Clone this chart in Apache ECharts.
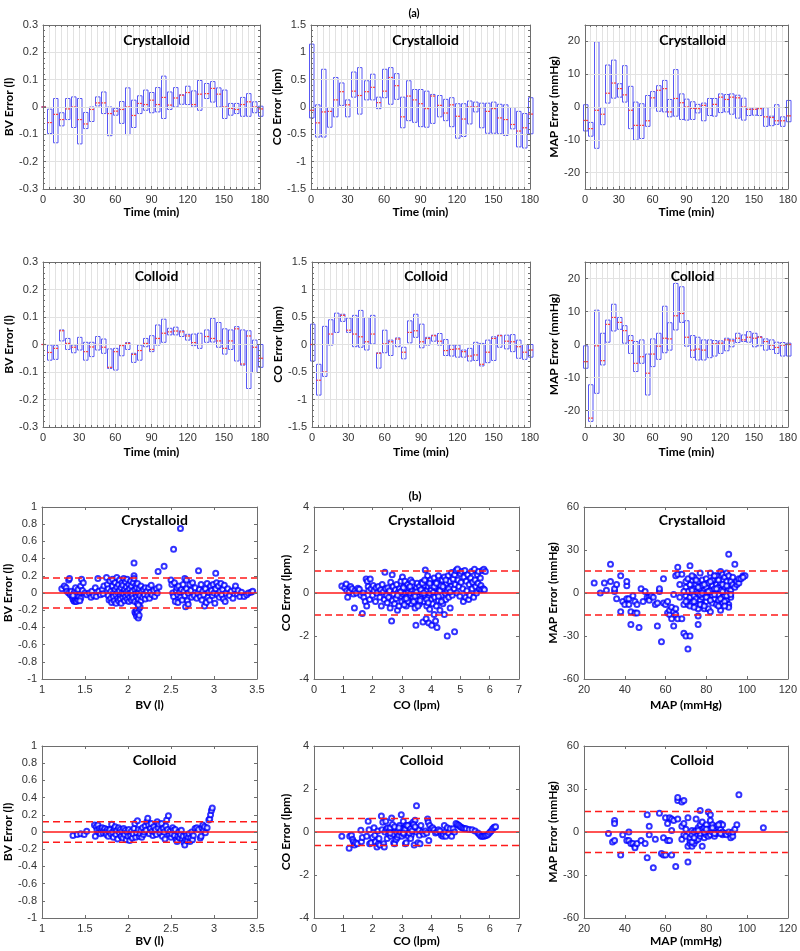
<!DOCTYPE html>
<html><head><meta charset="utf-8">
<script src="https://cdn.jsdelivr.net/npm/echarts@6/dist/echarts.min.js"></script>
<style>html,body{margin:0;padding:0;background:#fff}#c{width:800px;height:951px}</style>
</head><body><div id="c"></div><script>
// ---------- DATA ----------
const boxTimes = [0,5,10,15,20,25,30,35,40,45,50,55,60,65,70,75,80,85,90,95,100,105,110,115,120,125,130,135,140,145,150,155,160,165,170,175,180];

// (a) Crystalloid BV error boxes
const bvCryHigh = [0,-0.008,0.031,-0.021,0.031,0.037,0.031,-0.02,0.0,0.037,0.055,0.0,-0.005,0.02,0.07,0.025,0.041,0.062,0.053,0.071,0.113,0.055,0.071,0.045,0.076,0.059,0.097,0.086,0.093,0.07,0.062,0.013,0.013,0.035,0.049,0.019,0.003];
const bvCryMed  = [0,-0.057,-0.027,-0.046,-0.007,0.0,-0.046,-0.062,-0.009,0.015,0.015,-0.024,-0.015,-0.009,0.0,-0.031,0.013,0.009,0.025,0.009,0.035,0.007,0.033,0.043,0.053,0.009,0.047,0.049,0.068,0.047,0.0,-0.005,-0.009,0.009,0.019,0.0,-0.007];
const bvCryLow  = [0,-0.097,-0.131,-0.069,-0.046,-0.075,-0.135,-0.079,-0.053,0.004,-0.024,-0.105,-0.03,-0.06,-0.101,-0.075,-0.024,-0.012,-0.021,-0.018,-0.042,-0.009,0.0,0.01,0.009,0.0,-0.012,0.031,0.018,0.0,-0.042,-0.03,-0.024,-0.034,-0.034,-0.021,-0.034];
// (a) Crystalloid CO error boxes
const coCryHigh = [1.15,0.04,0.69,-0.01,0.54,0.44,0.13,0.64,0.72,0.48,0.6,0.18,0.69,0.72,0.61,0.18,0.48,0.32,0.32,0.29,0.23,0.21,0.14,0.17,0.06,0.06,0.11,0.09,0.07,0.07,0.09,0.05,0.04,-0.01,-0.08,-0.12,0.17];
const coCryMed  = [-0.06,-0.29,-0.09,-0.08,0.13,0.28,0.04,0.29,0.21,0.28,0.36,0.08,0.29,0.54,0.39,-0.18,0.2,0.13,0.06,-0.03,0.2,0.03,-0.11,0.04,-0.17,-0.22,0.0,0.0,-0.01,-0.08,-0.03,-0.2,-0.23,-0.32,-0.44,-0.38,-0.13];
const coCryLow  = [-0.2,-0.55,-0.55,-0.37,-0.18,0.03,-0.18,0.18,-0.13,0.13,0.13,-0.03,0.17,0.05,0.14,-0.38,-0.25,-0.28,-0.36,-0.37,-0.3,-0.18,-0.25,-0.36,-0.57,-0.54,-0.31,-0.09,-0.38,-0.48,-0.48,-0.49,-0.52,-0.4,-0.73,-0.75,-0.49];
// (a) Crystalloid MAP error boxes
const mapCryHigh = [0.7,-4.7,19.9,-0.2,12.8,14.3,7.1,12.6,6.3,1.5,1.0,3.5,4.7,6.5,8.1,2.3,11.4,4.0,2.4,1.6,0.8,1.2,2.6,2.6,4.0,3.8,4.0,3.6,2.7,-0.2,-0.2,-0.2,-0.2,-2.8,0.7,-3.0,2.0];
const mapCryMed  = [-4.1,-6.6,-1.0,-2.2,4.2,7.3,5.6,3.7,-1.0,-5.6,-5.6,-4.2,2.8,5.1,5.6,-1.5,2.6,1.3,0.0,-0.4,-0.5,0.5,-0.2,0.8,3.0,2.3,3.0,2.8,0.0,-0.7,-0.7,-0.5,-3.0,-3.2,-4.2,-4.2,-2.7];
const mapCryLow  = [-7.3,-8.9,-12.6,-5.4,1.2,2.7,3.0,1.5,-6.6,-10.1,-9.6,-5.9,-0.2,-1.3,-1.5,-3.0,-2.8,-3.8,-4.0,-3.8,-1.8,-4.2,-2.6,-2.8,-1.7,-1.5,-2.2,-3.4,-4.0,-2.6,-2.5,-2.6,-5.9,-5.7,-5.3,-5.9,-4.5];
// (a) Colloid BV error boxes
const bvColHigh = [0,-0.002,-0.004,0.053,0.022,-0.002,0.026,0.008,0.008,0.029,0.02,-0.016,-0.014,-0.002,0.007,-0.032,-0.002,0.022,0.032,0.071,0.092,0.059,0.063,0.05,0.037,0.038,0.041,0.053,0.095,0.08,0.057,0.053,0.065,0.053,0.05,0.016,0.0];
const bvColMed  = [0,-0.029,-0.014,0.05,0.004,-0.01,0.0,-0.026,-0.009,0.0,-0.01,-0.083,-0.026,-0.004,0.004,-0.036,-0.022,0.004,-0.018,0.022,0.041,0.046,0.049,0.046,0.031,0.007,0.0,0.029,0.022,0.013,-0.014,0.013,0.057,-0.071,0.031,-0.01,-0.05];
const bvColLow  = [0,-0.057,-0.054,0.013,-0.018,-0.03,-0.02,-0.057,-0.044,-0.02,-0.032,-0.087,-0.093,-0.041,-0.018,-0.065,-0.057,-0.008,-0.026,-0.002,0.008,0.035,0.035,0.029,0.016,-0.004,-0.014,0.008,0.009,-0.01,-0.035,-0.018,-0.06,-0.075,-0.16,-0.102,-0.083];
// (a) Colloid CO error boxes
const coColHigh = [0.37,-0.36,0.33,0.45,0.57,0.55,0.48,0.53,0.62,0.49,0.53,-0.15,0.26,0.08,0.12,-0.05,0.43,0.55,0.37,0.13,0.17,0.2,0.09,-0.01,-0.01,-0.1,-0.07,0.04,0.02,0.08,0.14,0.17,0.17,0.18,0.08,0.0,0.0];
const coColMed  = [0.0,-0.65,-0.5,0.19,0.49,0.53,0.26,0.19,0.14,0.05,0.19,-0.16,0.01,0.05,0.1,-0.14,0.22,0.25,0.05,0.11,0.16,0.06,-0.11,-0.09,-0.08,-0.13,-0.21,-0.19,-0.36,-0.14,0.11,0.16,0.06,0.05,-0.04,-0.14,-0.1];
const coColLow  = [-0.3,-0.92,-0.58,-0.01,0.22,0.42,0.22,-0.04,-0.05,-0.1,0.01,-0.43,-0.15,-0.2,-0.04,-0.26,0.03,0.13,-0.06,-0.01,0.06,-0.01,-0.2,-0.21,-0.23,-0.23,-0.3,-0.29,-0.39,-0.33,-0.29,-0.05,-0.08,-0.13,-0.25,-0.27,-0.23];
// (a) Colloid MAP error boxes
const mapColHigh = [-0.4,-12.2,10.4,3.4,7.4,12.2,8.2,5.7,2.7,0.9,1.4,-2.9,1.7,3.4,11.6,6.6,18.5,17.5,7.2,2.7,2.2,1.4,1.4,1.2,1.1,1.9,1.6,3.4,2.9,3.9,3.4,2.4,1.7,1.4,0.7,0.6,0.4];
const mapColMed  = [-5.2,-22.3,-0.4,-4.9,6.1,8.2,6.7,4.2,1.2,-5.7,-3.7,-8.7,-2.9,-0.5,1.9,1.7,8.7,9.4,2.2,-1.7,-1.4,-1.7,0.0,0.2,0.4,1.4,1.1,1.9,1.4,2.2,1.9,2.2,0.9,-0.2,-0.9,-0.2,0.0];
const mapColLow  = [-7.2,-23.3,-14.8,-6.2,0.7,4.1,4.6,0.4,-2.7,-8.2,-5.7,-15.3,-6.7,-4.5,-2.5,-1.7,4.4,6.7,-0.5,-3.9,-4.7,-4.7,-4.0,-3.5,-2.7,-1.9,-0.7,0.6,0.9,0.7,-0.7,-0.4,-1.7,-1.5,-2.7,-3.5,-3.5];

// (b) Bland-Altman scatter points [value, error]
const bvCryPts = [[1.23,0.05],[1.26,0.08],[1.28,0.06],[1.29,0.02],[1.31,0.15],[1.32,0.17],[1.31,0.0],[1.33,-0.02],[1.34,0.02],[1.35,-0.04],[1.36,-0.07],[1.37,-0.09],[1.38,-0.1],[1.39,-0.08],[1.4,-0.1],[1.41,-0.06],[1.42,-0.08],[1.37,-0.01],[1.38,0.02],[1.4,0.0],[1.41,-0.03],[1.43,-0.04],[1.44,0.01],[1.39,0.06],[1.42,0.04],[1.45,0.08],[1.46,0.16],[1.48,0.12],[1.47,0.03],[1.45,-0.06],[1.44,-0.09],[1.36,-0.03],[1.5,0.0],[1.52,-0.02],[1.55,0.0],[1.57,-0.05],[1.58,0.02],[1.6,-0.03],[1.62,0.06],[1.63,-0.04],[1.65,0.17],[1.66,0.02],[1.68,-0.02],[1.7,0.04],[1.71,-0.01],[1.72,0.08],
[1.75,0.18],[1.76,0.1],[1.77,0.05],[1.77,-0.03],[1.78,-0.08],[1.79,0.14],[1.8,0.02],[1.8,-0.06],[1.81,-0.11],[1.82,0.16],[1.82,0.08],[1.83,0.0],[1.83,-0.04],[1.84,-0.09],[1.85,0.12],[1.85,0.04],[1.86,-0.02],[1.86,-0.12],[1.87,0.18],[1.87,0.07],[1.88,-0.06],[1.88,0.01],[1.89,0.1],[1.89,-0.09],[1.9,0.15],[1.9,0.03],[1.91,-0.03],[1.91,-0.07],[1.92,0.06],[1.92,-0.12],[1.93,0.12],[1.93,0.0],[1.94,-0.05],[1.94,0.09],[1.95,0.17],[1.95,-0.01],[1.96,0.04],[1.96,-0.09],[1.97,0.13],[1.97,-0.04],[1.98,0.07],[1.98,0.01],[1.99,-0.07],[1.99,0.16],[2.0,0.03],[2.0,-0.02],[2.01,0.1],[2.01,-0.1],[2.02,0.05],[2.02,-0.05],[2.03,0.14],[2.03,0.0],[2.04,0.08],[2.04,-0.08],[2.05,0.02],[2.05,-0.03],[2.06,0.12],[2.06,-0.06],[2.07,0.35],[2.07,0.2],[2.07,0.17],[2.08,0.04],[2.08,-0.1],[2.09,0.09],[2.09,-0.01],[2.1,0.06],[2.1,-0.04],[2.11,0.11],[2.11,-0.12],[2.12,0.0],[2.12,-0.07],[2.13,0.05],[2.14,-0.03],[2.15,0.08],[2.15,-0.09],[2.16,0.02],[2.17,-0.05],[2.18,0.04],[2.19,-0.02],[2.2,0.06],[2.2,-0.07],
[2.08,-0.22],[2.09,-0.24],[2.1,-0.2],[2.1,-0.27],[2.11,-0.23],[2.12,-0.29],[2.13,-0.26],[2.13,-0.18],[2.14,-0.16],[2.12,-0.14],
[2.22,0.02],[2.23,-0.03],[2.24,0.06],[2.25,-0.06],[2.26,0.01],[2.27,0.09],[2.28,-0.02],[2.3,0.03],[2.31,-0.04],[2.33,0.05],[2.34,0.0],[2.35,0.25],[2.36,0.07],[2.42,0.31],
[2.5,0.15],[2.51,0.1],[2.52,0.0],[2.53,0.51],[2.53,-0.04],[2.54,0.12],[2.55,-0.1],[2.56,0.03],[2.57,0.06],[2.58,-0.02],[2.58,-0.11],[2.59,0.08],[2.6,0.01],[2.61,0.75],[2.61,-0.05],[2.62,0.04],[2.63,-0.08],[2.64,0.1],[2.65,0.02],[2.66,0.17],[2.66,-0.03],[2.67,-0.16],[2.68,0.15],[2.68,0.05],[2.69,-0.09],[2.7,0.0],[2.7,-0.13],[2.72,0.1],[2.73,0.03],[2.74,-0.05],[2.75,0.12],
[2.77,-0.03],[2.78,0.06],[2.8,-0.06],[2.81,0.0],[2.82,0.26],[2.83,0.04],[2.84,-0.04],[2.85,0.1],[2.86,-0.08],[2.87,0.02],[2.88,-0.02],[2.89,-0.15],[2.9,0.05],[2.91,-0.11],[2.92,0.11],[2.93,-0.05],[2.94,0.01],[2.95,-0.08],[2.96,0.08],[2.97,0.03],[2.98,-0.03],[2.99,0.1],[3.0,0.0],[3.01,-0.12],[3.02,0.23],[3.02,0.05],[3.03,0.12],[3.04,-0.02],[3.05,0.08],[3.06,-0.05],[3.07,0.02],[3.08,0.11],[3.09,-0.02],[3.1,0.04],[3.11,-0.07],[3.12,0.09],[3.13,-0.1],[3.14,0.0],
[3.16,0.05],[3.18,-0.03],[3.2,0.02],[3.22,-0.06],[3.24,0.04],[3.25,0.08],[3.27,-0.01],[3.28,0.03],[3.3,-0.04],[3.32,0.01],[3.35,-0.04],[3.38,-0.02],[3.4,0.0],[3.43,0.01],[3.45,0.02]];

const coCryPts = [[0.95,0.32],[1.05,0.25],[1.1,0.42],[1.12,0.1],[1.15,-0.2],[1.2,0.05],[1.25,0.3],[1.3,0.2],[1.35,-0.05],[1.38,-0.7],[1.4,0.1],[1.45,0.0],[1.5,0.22],[1.55,0.18],[1.6,-0.1],[1.65,-0.95],[1.68,0.0],[1.7,-0.2],[1.75,-0.4],[1.78,0.65],[1.8,-0.6],[1.82,0.55],[1.85,0.3],[1.87,0.1],[1.9,-0.3],[1.92,0.65],[1.95,0.2],[2.0,-0.1],[2.02,0.35],[2.05,0.1],[2.1,-0.4],[2.12,0.25],[2.15,0.0],[2.2,0.3],[2.25,-0.2],[2.28,0.15],[2.3,-0.6],[2.33,0.4],[2.36,0.05],[2.4,-0.3],[2.42,0.97],[2.45,0.2],[2.48,-0.1],[2.5,-0.45],[2.52,0.25],[2.55,-0.2],[2.58,0.1],[2.6,-0.7],[2.62,0.5],[2.65,-1.3],[2.67,0.85],[2.68,-0.35],[2.7,0.3],[2.72,-0.05],[2.75,-0.5],[2.78,0.15],[2.8,-0.25],[2.82,0.4],[2.85,-0.8],[2.88,0.05],[2.9,-0.6],[2.92,0.2],[2.95,-0.15],[2.97,0.55],[3.0,-0.4],[3.0,0.1],[3.02,0.75],[3.05,-0.05],[3.07,0.3],[3.1,-0.3],[3.1,0.55],[3.12,0.0],[3.15,-0.6],[3.15,0.2],[3.18,-0.15],[3.2,0.4],[3.22,0.05],[3.25,-0.35],[3.25,0.25],[3.28,-0.1],[3.3,0.6],[3.3,0.0],[3.32,-0.5],[3.35,0.15],[3.38,-0.2],[3.4,0.35],[3.42,-0.05],[3.45,-0.7],[3.45,0.1],[3.48,-1.5],[3.5,0.25],[3.5,-0.3],[3.52,0.45],[3.55,0.0],[3.58,-0.15],[3.6,0.3],[3.6,-0.5],[3.62,0.1],[3.65,-0.25],[3.68,0.5],[3.7,-0.05],[3.72,-1.35],[3.72,0.2],[3.75,-0.4],[3.78,0.35],[3.8,1.07],[3.8,-0.1],[3.82,0.55],[3.83,-1.2],[3.85,0.1],[3.85,-0.6],[3.88,0.8],[3.9,-0.2],[3.9,0.3],[3.92,-1.4],[3.95,0.0],[3.95,-0.75],[3.98,0.6],[4.0,-0.3],[4.0,0.15],[4.02,-1.5],[4.05,0.4],[4.05,-0.5],[4.08,0.05],[4.1,-1.0],[4.1,0.7],[4.12,-0.2],[4.15,0.25],[4.15,-1.3],[4.18,-0.6],[4.2,0.5],[4.2,-1.6],[4.22,0.0],[4.25,-0.35],[4.25,0.8],[4.28,0.15],[4.3,-0.8],[4.32,0.35],[4.35,-0.1],[4.38,0.6],[4.4,-0.5],[4.42,0.2],[4.45,-1.0],[4.45,0.75],[4.48,0.0],[4.5,-0.3],[4.52,0.45],[4.55,-2.0],[4.55,0.1],[4.58,0.8],[4.6,-0.2],[4.62,0.55],[4.65,-0.7],[4.68,0.3],[4.7,0.95],[4.72,-0.1],[4.75,0.65],[4.78,0.2],[4.8,-1.8],[4.8,0.85],[4.82,0.4],[4.85,1.05],[4.88,0.0],[4.9,1.12],[4.92,0.6],[4.95,0.3],[4.98,-0.15],[5.0,0.9],[5.02,0.5],[5.05,1.0],[5.08,0.2],[5.1,-0.4],[5.12,0.75],[5.15,1.05],[5.18,-0.2],[5.2,0.55],[5.22,0.1],[5.25,0.85],[5.28,-0.3],[5.3,0.4],[5.32,-0.1],[5.35,0.7],[5.38,1.0],[5.4,0.2],[5.42,0.5],[5.45,-0.2],[5.48,1.1],[5.5,0.6],[5.52,0.3],[5.55,0.0],[5.58,0.85],[5.6,0.45],[5.62,1.0],[5.65,0.2],[5.68,0.7],[5.7,0.35],[5.72,0.15],[5.75,1.05],[5.78,0.2],[5.8,1.1],[5.82,0.15],[5.85,1.0],
[3.05,0.25],[3.2,-0.4],[3.35,0.5],[3.5,0.05],[3.65,0.15],[3.7,0.45],[3.85,-0.3],[4.0,0.35],[4.3,0.1],[4.35,-0.4],[4.4,0.3],[4.6,0.2],[2.95,0.05],[3.15,-0.25],[3.4,-0.4],[3.55,-0.6],[3.75,0.0],[3.9,-0.45],[4.1,0.3],[4.25,-0.15],[2.85,-0.1],[3.08,-0.55],[3.28,0.3],[3.45,-0.15],[3.62,-0.35],[3.78,0.6],[3.95,0.45],[4.18,0.45],[4.5,0.6],[4.65,0.05]];

const mapCryPts = [[25,7],[28,0],[30,7],[31,2],[33,20],[33,8],[35,1],[35,3],[36,6],[36,-4],[38,12],[38,-13],[39,-6],[40,-8],[41,-4],[41,5],[41,8],[42,-8],[42,-4],[43,-13],[43,-22],[44,-2],[45,-14],[45,-6],[46,-8],[46,-14],[47,-24],[48,3],[49,-6],[50,1],[51,-3],[52,-3],[52,-5],[53,-2],[54,-3],[55,-8],[56,-23],[56,-7],[57,1],[57,3],[58,-34],[59,-7],[59,10],[60,-8],[61,-6],[61,-14],[62,-15],[62,-12],[63,-10],[63,-18],[64,-1],[64,-23],[64,-13],[65,-15],[65,-11],[65,12],[66,-18],[66,18],[66,13],[67,-3],[67,6],[68,-18],[68,13],[69,-28],[69,-8],[70,-30],[70,4],[70,-2],[71,-39],[71,-8],[71,-5],[72,-30],[72,19],[72,-3],[72,6],[73,0],[73,9],[73,-7],[74,-2],[74,3],[74,11],[75,-9],[75,-4],[75,1],[75,6],[76,-16],[76,-22],[76,-11],[76,8],[76,0],[77,-5],[77,3],[77,14],[78,-3],[78,5],[78,-8],[78,9],[79,-1],[79,2],[79,-11],[80,4],[80,-6],[80,0],[80,10],[81,-11],[81,-3],[81,7],[82,-13],[82,2],[82,14],[83,-7],[83,5],[83,-2],[84,-4],[84,3],[84,9],[85,-8],[85,0],[85,6],[85,12],[86,-5],[86,-1],[86,4],[87,-12],[87,7],[87,2],[87,15],[88,-3],[88,9],[88,-7],[88,13],[89,-2],[89,4],[89,11],[90,-5],[90,1],[90,8],[90,14],[91,-8],[91,-10],[91,3],[91,27],[91,12],[92,2],[92,8],[92,-3],[93,6],[93,11],[94,4],[94,20],[95,6],[95,8],[96,7],[96,10],[97,10],[98,12],[99,12],[98,11],
[70,-6],[71,1],[72,-9],[73,2],[74,-6],[75,9],[76,4],[77,-1],[78,0],[79,6],[80,-3],[81,1],[82,-5],[83,9],[84,-1],[85,3],[86,9],[87,-4],[88,1],[89,-6],[90,-2],[69,1],[70,8],[71,10],[73,12],[74,-10],[77,-8],[79,-9],[82,8],[84,12],[86,-9],[88,6],[89,-9],[90,5],[92,-1]];

const bvColPts = [[1.36,-0.04],[1.41,-0.03],[1.45,-0.02],[1.49,-0.03],[1.52,0.01],[1.61,0.08],[1.62,-0.05],[1.63,0.06],[1.64,0.02],[1.65,0.08],[1.66,0.0],[1.67,0.04],[1.68,-0.02],[1.69,0.03],[1.7,0.05],[1.71,-0.01],[1.72,0.02],[1.73,0.04],[1.74,0.0],[1.75,-0.03],[1.76,0.03],[1.77,-0.05],[1.78,0.01],[1.79,0.03],[1.8,-0.02],[1.81,0.09],[1.82,0.0],[1.83,-0.06],[1.84,0.04],[1.85,0.06],[1.86,-0.03],[1.87,0.02],[1.88,-0.08],[1.89,0.05],[1.9,-0.01],[1.91,0.03],[1.92,-0.05],[1.93,0.01],[1.94,-0.07],[1.95,0.04],[1.96,-0.03],[1.97,0.02],[1.98,-0.09],[1.99,0.0],[2.0,-0.05],[2.01,0.03],[2.02,-0.1],[2.03,-0.04],[2.04,0.01],[2.05,-0.07],[2.06,-0.02],[2.07,0.04],[2.08,0.1],[2.09,-0.06],[2.1,-0.01],[2.11,0.13],[2.12,0.03],[2.13,-0.05],[2.14,-0.02],[2.15,0.02],[2.16,-0.06],[2.17,0.05],[2.18,-0.03],[2.19,0.0],[2.2,0.07],[2.21,0.02],[2.22,0.12],[2.23,0.16],[2.24,0.08],[2.25,-0.02],[2.26,0.04],[2.27,0.1],[2.28,0.01],[2.29,-0.04],[2.3,0.06],[2.31,0.0],[2.32,0.03],[2.33,-0.03],[2.34,0.12],[2.35,0.05],[2.36,0.09],[2.37,-0.01],[2.38,0.02],[2.39,0.1],[2.4,-0.05],[2.41,0.04],[2.42,0.0],[2.43,-0.08],[2.44,0.07],[2.45,0.14],[2.46,0.03],[2.47,0.19],[2.48,-0.03],[2.49,0.01],[2.5,-0.06],[2.51,-0.02],[2.52,0.05],[2.53,0.02],[2.54,-0.04],[2.55,0.03],[2.56,-0.09],[2.57,-0.11],[2.58,-0.05],[2.59,0.0],[2.6,-0.07],[2.61,-0.03],[2.62,0.02],[2.63,-0.08],[2.64,-0.05],[2.65,-0.12],[2.66,-0.15],[2.67,-0.09],[2.68,-0.04],[2.69,-0.1],[2.7,-0.06],[2.71,-0.02],[2.72,-0.11],[2.73,-0.07],[2.74,0.0],[2.75,-0.09],[2.76,-0.04],[2.78,0.04],[2.8,0.05],[2.82,0.03],[2.84,-0.07],[2.85,-0.05],[2.86,0.05],[2.87,0.08],[2.88,0.02],[2.89,0.06],[2.9,-0.01],[2.92,0.05],[2.94,0.14],[2.95,0.15],[2.96,0.2],[2.97,0.25],[2.98,0.28]];

const coColPts = [[0.95,-0.2],[1.2,-0.75],[1.22,-0.2],[1.28,-0.15],[1.32,-0.35],[1.35,-0.45],[1.38,-0.6],[1.42,-0.5],[1.48,-0.55],[1.6,0.08],[1.62,-0.45],[1.65,-0.25],[1.8,-0.2],[1.85,0.5],[1.88,0.1],[1.9,-0.55],[1.95,-0.5],[2.0,-0.25],[2.05,0.2],[2.08,-0.15],[2.1,-0.45],[2.15,-0.7],[2.18,0.05],[2.2,-0.55],[2.22,-0.3],[2.25,-0.6],[2.3,0.75],[2.32,0.1],[2.35,0.45],[2.38,-0.55],[2.4,-0.7],[2.42,0.0],[2.45,0.5],[2.48,0.15],[2.5,-0.3],[2.52,0.2],[2.55,-0.1],[2.58,0.05],[2.6,0.2],[2.62,-0.2],[2.65,0.65],[2.68,0.35],[2.7,-0.1],[2.72,-0.5],[2.75,-0.55],[2.78,0.15],[2.8,-0.35],[2.82,0.0],[2.85,-0.25],[2.88,0.1],[2.9,-0.15],[2.92,0.3],[2.95,0.0],[2.98,0.8],[3.0,-0.2],[3.02,0.15],[3.05,0.5],[3.08,-0.1],[3.1,0.2],[3.12,-0.55],[3.15,-0.5],[3.15,0.3],[3.18,0.05],[3.2,0.15],[3.22,-0.2],[3.25,0.25],[3.28,0.0],[3.3,0.35],[3.32,-0.15],[3.35,0.3],[3.38,0.45],[3.4,0.1],[3.42,-0.6],[3.45,0.55],[3.48,0.2],[3.5,1.22],[3.5,0.0],[3.55,-0.5],[3.58,0.1],[3.6,-0.15],[3.62,-0.55],[3.65,0.3],[3.7,0.0],[3.75,-0.1],[3.8,0.05],[3.85,-0.05],[3.88,0.6],[3.9,0.45],[3.92,-0.4],[3.95,0.3],[4.0,0.15],[4.05,0.2],[4.1,0.1],[4.15,-0.05],[4.2,0.0],[4.25,0.1],[4.3,0.05],[4.35,-0.15],[4.4,-0.2],[4.42,-0.1],[4.45,0.3],[4.48,0.0],[4.5,-0.2],[4.55,0.2],[4.6,-0.05],[4.65,0.15],[4.7,-0.2],[4.75,0.15],[4.8,0.0],[4.85,0.4],[4.9,0.35],[4.95,0.3],[5.0,0.25],[5.05,0.2],[5.1,0.18],[5.15,0.15],[5.2,0.15],[5.3,0.12],[5.4,0.1],[5.5,0.05],[5.6,-0.05],[5.65,-0.12],[5.7,-0.2],[5.75,-0.2],[5.8,-0.2],[5.85,-0.18],[5.9,-0.15],[5.95,-0.1],[6.0,-0.02],[6.05,0.05],[6.1,0.15],[6.15,0.22],[6.2,0.25],
[3.1,0.1],[3.2,0.3],[3.25,-0.05],[3.3,0.15],[3.35,0.05],[3.4,0.35],[3.45,0.25],[3.3,-0.3],[2.6,-0.05],[2.75,0.25],[2.9,0.2],[3.05,-0.05]];

const mapColPts = [[32,-1],[34,-7],[35,8],[35,6],[35,-6],[38,-16],[39,-2],[41,-6],[42,0],[42,-6],[43,-8],[44,-8],[45,-10],[45,-11],[46,-8],[48,-6],[50,-8],[51,12],[51,-18],[52,-2],[52,4],[54,-25],[55,-5],[57,13],[58,-15],[59,-16],[59,-4],[60,10],[60,-16],[61,6],[61,-6],[62,-6],[62,10],[63,9],[63,1],[63,-16],[64,8],[65,-24],[66,22],[66,24],[66,9],[68,21],[68,-5],[68,4],[69,22],[69,-2],[69,6],[70,-3],[70,2],[71,-10],[71,-21],[71,10],[72,-8],[72,-6],[72,-4],[73,-10],[73,1],[73,-2],[74,-8],[74,0],[75,9],[75,-6],[75,1],[76,3],[76,-5],[77,15],[77,5],[77,-3],[77,-1],[78,7],[78,-10],[78,2],[79,3],[79,-4],[80,-2],[80,5],[81,14],[81,0],[81,-3],[82,12],[82,8],[82,2],[82,-2],[83,5],[83,0],[84,-3],[84,2],[85,4],[85,-1],[86,3],[86,0],[87,6],[87,2],[88,5],[88,0],[88,-2],[89,-1],[90,-2],[91,0],[92,-2],[92,-4],[93,-3],[93,0],[94,2],[95,5],[96,26],[108,3],[73,-7],[74,-4],[76,1],[79,0],[80,2],[83,3],[84,-1],[86,5],[87,-1]];

// mean bias and limits of agreement (±) : [crystalloid, colloid]
const bvLoA = [0.175, 0.12];
const coLoA = [1.02, 0.63];
const mapLoA = [15.3, 14.3];
const biasValues = [0, 0];

// ---------- LAYOUT ----------
const grids = [
 {left:43, top:25, width:217, height:164},
 {left:311, top:25, width:219, height:164},
 {left:585, top:25, width:205, height:164},
 {left:43, top:262, width:217, height:165},
 {left:312, top:262, width:218, height:165},
 {left:585, top:262, width:205, height:165},
 {left:42, top:507, width:215, height:172},
 {left:314, top:507, width:205, height:172},
 {left:584, top:507, width:206, height:172},
 {left:42, top:746, width:215, height:172},
 {left:314, top:746, width:205, height:172},
 {left:584, top:746, width:206, height:172}
];
const panelTitles = ['Crystalloid','Crystalloid','Crystalloid','Colloid','Colloid','Colloid','Crystalloid','Crystalloid','Crystalloid','Colloid','Colloid','Colloid'];
const titleTops = [28,28,28,264,264,264,508,508,508,748,748,748];
const xNames = ['Time (min)','Time (min)','Time (min)','Time (min)','Time (min)','Time (min)','BV (l)','CO (lpm)','MAP (mmHg)','BV (l)','CO (lpm)','MAP (mmHg)'];
const yNames = ['BV Error (l)','CO Error (lpm)','MAP Error (mmHg)','BV Error (l)','CO Error (lpm)','MAP Error (mmHg)','BV Error (l)','CO Error (lpm)','MAP Error (mmHg)','BV Error (l)','CO Error (lpm)','MAP Error (mmHg)'];
const xGaps = [14,14,14,19,19,19,20,20,20,14,14,14];
const yGaps = [28,22,21,28,25,21,25,22,20,25,22,20];

const boxY = [
 {min:-0.3,max:0.3,interval:0.1},
 {min:-1.5,max:1.5,interval:0.5},
 {min:-25,max:25,custom:[-20,-10,0,10,20]}
];
const scX = [{min:1,max:3.5,interval:0.5},{min:0,max:7,interval:1},{min:20,max:120,interval:20}];
const scY = [{min:-1,max:1,interval:0.2},{min:-4,max:4,interval:2},{min:-60,max:60,interval:30}];

const AX = '#6e6e6e';
const RED = '#ff1a1a';
const labelStyle = {fontFamily:'Liberation Sans, Arial, sans-serif', fontSize:11, color:'#333'};
const nameStyle = {fontFamily:'Lato, sans-serif', fontWeight:'bold', fontSize:12, color:'#000'};

function makeAxis(dim, g, pos, sc, opts){
  const main = (pos==='bottom'||pos==='left');
  const a = {
    type:'value', gridIndex:g, position:pos, min:sc.min, max:sc.max,
    axisLine:{show:true, onZero:false, lineStyle:{color:AX, width:1}},
    axisTick:{show:true, inside:true, length:3, lineStyle:{color:AX}},
    axisLabel:Object.assign({show:main, margin:5}, labelStyle),
    splitLine:{show: main && !!opts.grid, lineStyle:{color:'#e2e2e2', width:1}},
    minorTick:{show: !!opts.minor, splitNumber: opts.minor||5, length:2, lineStyle:{color:AX}},
    minorSplitLine:{show: main && !!opts.grid && !!opts.minorGrid, lineStyle:{color:'#e2e2e2', width:1}},
    silent:true, z:5
  };
  if (sc.interval!==undefined) a.interval = sc.interval;
  if (sc.custom){ a.axisLabel.customValues = sc.custom; a.axisTick.customValues = sc.custom; }
  if (main){
    a.name = opts.name; a.nameLocation='middle'; a.nameGap=opts.gap; a.nameTextStyle = nameStyle;
  }
  return a;
}

const xAxes = [], yAxes = [], series = [], titles = [];
titles.push({text:'(a)', left:409, top:3, textAlign:'center', textStyle:{fontFamily:'Lato, sans-serif', fontWeight:'bold', fontSize:11, color:'#000'}});
titles.push({text:'(b)', left:410, top:485, textAlign:'center', textStyle:{fontFamily:'Lato, sans-serif', fontWeight:'bold', fontSize:12, color:'#000'}});

function renderBox(params, api){
  const t = api.value(0);
  const pLo = api.coord([t, api.value(1)]);
  const pMed = api.coord([t, api.value(2)]);
  const pHi = api.coord([t, api.value(3)]);
  const w = 4.5;
  return {type:'group', children:[
    {type:'rect', shape:{x:Math.round(pLo[0]-w/2)+0.5, y:pHi[1], width:w, height:Math.max(pLo[1]-pHi[1],0)}, style:{fill:'none', stroke:'#5858f5', lineWidth:1}},
    {type:'line', shape:{x1:Math.round(pMed[0]-w/2)+0.5, y1:pMed[1], x2:Math.round(pMed[0]-w/2)+0.5+w, y2:pMed[1]}, style:{stroke:'#ff3b3b', lineWidth:1.2}}
  ]};
}

const boxSets = [
 [bvCryLow,bvCryMed,bvCryHigh],[coCryLow,coCryMed,coCryHigh],[mapCryLow,mapCryMed,mapCryHigh],
 [bvColLow,bvColMed,bvColHigh],[coColLow,coColMed,coColHigh],[mapColLow,mapColMed,mapColHigh]
];
const scSets = [bvCryPts, coCryPts, mapCryPts, bvColPts, coColPts, mapColPts];
const loaSets = [bvLoA[0], coLoA[0], mapLoA[0], bvLoA[1], coLoA[1], mapLoA[1]];

function refLine(g, xs, v, dashed){
  return {type:'line', xAxisIndex:g, yAxisIndex:g, silent:true, showSymbol:false, symbol:'none', z:4,
    animation:false, color:RED,
    lineStyle:{color:RED, width:1.5, type: dashed ? [7,4] : 'solid'},
    itemStyle:{color:RED},
    data:[[xs.min, v],[xs.max, v]]};
}

for (let g=0; g<12; g++){
  const isBox = g<6;
  const col = g%3;
  const xs = isBox ? {min:0,max:180,interval:30} : scX[col];
  const ys = isBox ? boxY[col] : scY[col];
  const xo = isBox ? {grid:true, minor:6, minorGrid:true} : {};
  const yo = isBox ? {grid:true, minor: col===2 ? 0 : 5} : {};
  xAxes.push(makeAxis('x', g, 'bottom', xs, Object.assign({name:xNames[g], gap:xGaps[g]}, xo)));
  yAxes.push(makeAxis('y', g, 'left', ys, Object.assign({name:yNames[g], gap:yGaps[g]}, yo)));
  titles.push({text:panelTitles[g], left:grids[g].left+grids[g].width/2, top:titleTops[g], textAlign:'center',
    textStyle:{fontFamily:'Lato, sans-serif', fontWeight:'bold', fontSize:14, color:'#000'}});
  if (isBox){
    const [lo,md,hi] = boxSets[g];
    series.push({type:'custom', xAxisIndex:g, yAxisIndex:g, renderItem:renderBox, clip:false, z:3,
      encode:{x:0, y:[1,2,3]},
      data: boxTimes.map((t,i)=>[t, lo[i], md[i], hi[i]])});
  } else {
    const k = g-6;
    const lim = loaSets[k];
    const bias = biasValues[k<3?0:1];
    series.push({type:'scatter', xAxisIndex:g, yAxisIndex:g, symbol:'emptyCircle', symbolSize:5, z:3,
      itemStyle:{color:'#0000ff', borderColor:'#0000ff', borderWidth:1.3},
      data: scSets[k]});
    series.push(refLine(g, xs, bias, false));
    series.push(refLine(g, xs, bias+lim, true));
    series.push(refLine(g, xs, bias-lim, true));
  }
}
// mirror axes on top / right (MATLAB box frame with ticks)
for (let g=0; g<12; g++){
  const isBox = g<6, col = g%3;
  const xs = isBox ? {min:0,max:180,interval:30} : scX[col];
  const ys = isBox ? boxY[col] : scY[col];
  xAxes.push(makeAxis('x', g, 'top', xs, isBox ? {minor:6} : {}));
  yAxes.push(makeAxis('y', g, 'right', ys, isBox ? {minor: col===2 ? 0 : 5} : {}));
}

const chart = echarts.init(document.getElementById('c'), null, {renderer:'canvas'});
chart.setOption({
  animation:false,
  backgroundColor:'#fff',
  title: titles,
  grid: grids.map(g=>Object.assign({containLabel:false}, g)),
  xAxis: xAxes,
  yAxis: yAxes,
  series: series
});
</script></body></html>
